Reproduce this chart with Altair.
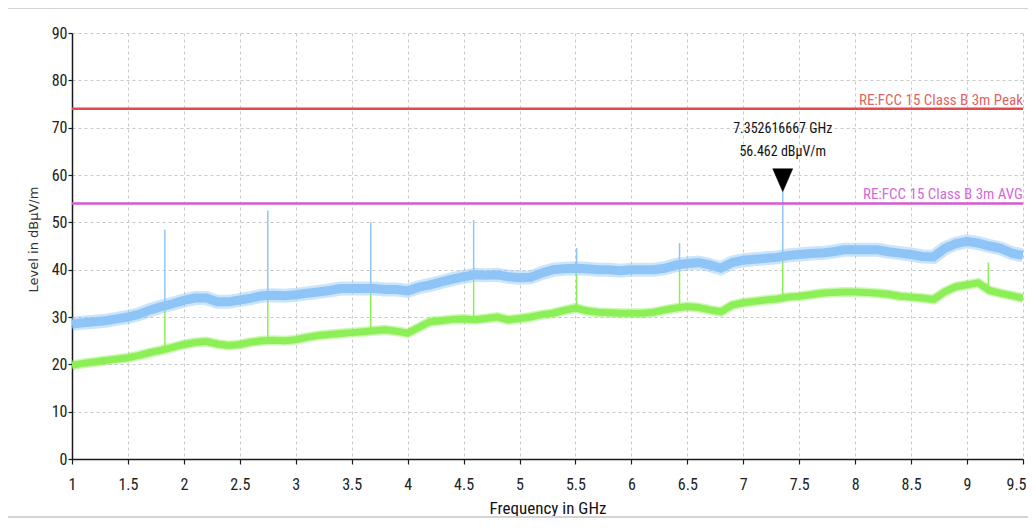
import altair as alt
import pandas as pd

# ---------------- data ----------------
FREQ = [1.0, 1.1, 1.2, 1.3, 1.4, 1.5, 1.6, 1.7, 1.8, 1.9,
        2.0, 2.1, 2.2, 2.3, 2.4, 2.5, 2.6, 2.7, 2.8, 2.9,
        3.0, 3.1, 3.2, 3.3, 3.4, 3.5, 3.6, 3.7, 3.8, 3.9,
        4.0, 4.1, 4.2, 4.3, 4.4, 4.5, 4.6, 4.7, 4.8, 4.9,
        5.0, 5.1, 5.2, 5.3, 5.4, 5.5, 5.6, 5.7, 5.8, 5.9,
        6.0, 6.1, 6.2, 6.3, 6.4, 6.5, 6.6, 6.7, 6.8, 6.9,
        7.0, 7.1, 7.2, 7.3, 7.4, 7.5, 7.6, 7.7, 7.8, 7.9,
        8.0, 8.1, 8.2, 8.3, 8.4, 8.5, 8.6, 8.7, 8.8, 8.9,
        9.0, 9.1, 9.2, 9.3, 9.4, 9.5]

PEAK_TRACE = [28.5, 28.8, 29.0, 29.2, 29.6, 30.0, 30.6, 31.5, 32.2, 32.8,
              33.5, 34.0, 34.0, 33.2, 33.2, 33.6, 34.0, 34.5, 34.6, 34.5,
              34.7, 35.0, 35.3, 35.6, 36.0, 36.0, 36.0, 36.0, 35.8, 35.8,
              35.5, 36.3, 36.8, 37.4, 38.0, 38.5, 38.9, 38.8, 38.9, 38.5,
              38.3, 38.4, 39.3, 40.0, 40.2, 40.3, 40.2, 40.0, 40.0, 39.8,
              40.0, 40.0, 40.0, 40.3, 41.0, 41.3, 41.5, 41.0, 40.3, 41.5,
              42.0, 42.2, 42.4, 42.6, 43.0, 43.2, 43.4, 43.5, 43.8, 44.2,
              44.2, 44.2, 44.2, 43.8, 43.5, 43.2, 42.8, 42.7, 44.5, 45.5,
              46.0, 45.6, 45.0, 44.5, 43.5, 43.0]

AVG_TRACE = [19.8, 20.2, 20.5, 20.8, 21.1, 21.4, 21.9, 22.5, 23.0, 23.6,
             24.2, 24.6, 24.8, 24.3, 24.0, 24.2, 24.7, 25.0, 25.1, 25.0,
             25.2, 25.7, 26.1, 26.3, 26.5, 26.7, 26.9, 27.1, 27.3, 27.0,
             26.6, 27.8, 29.0, 29.2, 29.5, 29.6, 29.4, 29.7, 30.0, 29.4,
             29.7, 30.0, 30.5, 30.8, 31.4, 31.9, 31.3, 31.0, 30.9, 30.8,
             30.8, 30.8, 31.0, 31.5, 31.9, 32.2, 32.0, 31.5, 31.1, 32.5,
             33.0, 33.3, 33.6, 33.8, 34.2, 34.4, 34.7, 35.0, 35.2, 35.3,
             35.3, 35.2, 35.0, 34.8, 34.4, 34.2, 34.0, 33.7, 35.3, 36.4,
             36.8, 37.2, 35.6, 35.0, 34.5, 34.0]

# narrow spikes (frequency, base level, top level)
PEAK_SPIKE_F = [1.83, 2.75, 3.67, 4.59, 5.51, 6.43, 7.352616667]
PEAK_SPIKE_BASE = [32.4, 34.5, 36.0, 38.9, 40.3, 41.1, 42.7]
PEAK_SPIKE_TOP = [48.5, 52.5, 50.0, 50.5, 44.6, 45.6, 56.462]

AVG_SPIKE_F = [1.83, 2.75, 3.67, 4.59, 5.51, 6.43, 7.352616667, 9.19]
AVG_SPIKE_BASE = [23.0, 25.0, 27.0, 29.4, 31.9, 32.0, 33.8, 35.8]
AVG_SPIKE_TOP = [32.0, 34.2, 35.8, 38.5, 40.0, 41.0, 42.5, 41.5]

LIMIT_NAMES = ["RE:FCC 15 Class B 3m Peak", "RE:FCC 15 Class B 3m AVG"]
LIMIT_VALUES = [74, 54]
LIMIT_START = [1.0, 1.0]
LIMIT_END = [9.5, 9.5]

MARKER_F = [7.352616667]
MARKER_LEVEL = [56.462]
MARKER_TEXT1 = ["7.352616667 GHz"]
MARKER_TEXT2 = ["56.462 dBµV/m"]

X_TICKS = [1.0, 1.25, 1.5, 1.75, 2.0, 2.25, 2.5, 2.75, 3.0, 3.25, 3.5, 3.75,
           4.0, 4.25, 4.5, 4.75, 5.0, 5.25, 5.5, 5.75, 6.0, 6.25, 6.5, 6.75,
           7.0, 7.25, 7.5, 7.75, 8.0, 8.25, 8.5, 8.75, 9.0, 9.25, 9.5]
Y_TICKS = [0, 5, 10, 15, 20, 25, 30, 35, 40, 45, 50, 55, 60, 65, 70, 75, 80, 85, 90]

# ---------------- styles ----------------
NARROW = "Roboto Condensed, Liberation Sans Narrow, Arial Narrow, Liberation Sans, sans-serif"
BLUE = "#8fc5f6"
GREEN = "#8def58"
RED = "#e2484c"
PINK = "#d35ad6"
RED_TXT = "#e06464"
PINK_TXT = "#d46ad6"

traces = pd.DataFrame({"f": FREQ, "peak": PEAK_TRACE, "avg": AVG_TRACE})
pk_sp = pd.DataFrame({"f": PEAK_SPIKE_F, "b": PEAK_SPIKE_BASE, "t": PEAK_SPIKE_TOP})
av_sp = pd.DataFrame({"f": AVG_SPIKE_F, "b": AVG_SPIKE_BASE, "t": AVG_SPIKE_TOP})
limits = pd.DataFrame({"name": LIMIT_NAMES, "v": LIMIT_VALUES,
                       "f0": LIMIT_START, "f1": LIMIT_END,
                       "c": [RED, PINK], "tc": [RED_TXT, PINK_TXT]})
marker = pd.DataFrame({"f": MARKER_F, "v": MARKER_LEVEL,
                       "t1": MARKER_TEXT1, "t2": MARKER_TEXT2})
frame_df = pd.DataFrame({"k": [0]})

xscale = alt.Scale(domain=[1, 9.5], nice=False, zero=False)
yscale = alt.Scale(domain=[0, 90], nice=False)

x_axis = alt.Axis(
    values=X_TICKS, format="~r",
    labelExpr="(datum.value * 2) % 1 == 0 ? datum.label : ''",
    labelAlign={"condition": {"test": "datum.value >= 9.4", "value": "right"}, "value": "center"},
    labelOffset={"condition": {"test": "datum.value >= 9.4", "value": 3}, "value": 0},
    title="Frequency in GHz",
    grid=True, gridColor="#c9c9c9", gridDash=[3, 3], gridWidth=1,
    domainColor="#1a1a1a", domainWidth=1.5,
    tickColor="#1a1a1a", tickSize=5, tickWidth=1.2,
    labelFont=NARROW, labelFontSize=16, labelColor="#222222", labelPadding=12,
    labelFlush=False, labelOverlap=False,
    titleFont=NARROW, titleFontSize=17, titleFontWeight="normal", titleColor="#111111",
    titleY=54, titleBaseline="alphabetic",
)
y_axis = alt.Axis(
    values=Y_TICKS, format="d",
    labelExpr="datum.value % 10 == 0 ? datum.label : ''",
    title="Level in dBµV/m",
    grid=True, gridColor="#c9c9c9", gridDash=[3, 3], gridWidth=1,
    domainColor="#1a1a1a", domainWidth=1.5,
    tickColor="#1a1a1a", tickSize=4, tickWidth=1.2,
    labelFont=NARROW, labelFontSize=16, labelColor="#222222", labelPadding=1,
    labelFlush=False, labelOverlap=False,
    titleFont="DejaVu Sans", titleFontSize=13, titleFontWeight="normal", titleColor="#333333",
    titleX=-39, titleY=206, titleAngle=-90, titleBaseline="middle", titleAlign="center",
)

base = alt.Chart(traces)

# frame around the whole chart (decoration)
frame = alt.Chart(frame_df).mark_rect(fill=None, stroke="#d4d4d4", strokeWidth=2).encode(
    x=alt.value(-65), x2=alt.value(990), y=alt.value(-25), y2=alt.value(484)
)

grid_holder = base.mark_line(opacity=0).encode(
    x=alt.X("f:Q", scale=xscale, axis=x_axis),
    y=alt.Y("avg:Q", scale=yscale, axis=y_axis),
)

avg_halo = base.mark_line(color=GREEN, strokeWidth=10, opacity=0.45, clip=True).encode(
    x=alt.X("f:Q", scale=xscale), y=alt.Y("avg:Q", scale=yscale))
avg_line = base.mark_line(color=GREEN, strokeWidth=7, clip=True).encode(
    x=alt.X("f:Q", scale=xscale), y=alt.Y("avg:Q", scale=yscale))
avg_spikes = alt.Chart(av_sp).mark_rule(color=GREEN, strokeWidth=1.5).encode(
    x=alt.X("f:Q", scale=xscale), y=alt.Y("b:Q", scale=yscale), y2="t:Q")

pk_halo = base.mark_line(color=BLUE, strokeWidth=14, opacity=0.45, clip=True).encode(
    x=alt.X("f:Q", scale=xscale), y=alt.Y("peak:Q", scale=yscale))
pk_line = base.mark_line(color=BLUE, strokeWidth=9, clip=True).encode(
    x=alt.X("f:Q", scale=xscale), y=alt.Y("peak:Q", scale=yscale))
pk_spikes = alt.Chart(pk_sp).mark_rule(color=BLUE, strokeWidth=1.5).encode(
    x=alt.X("f:Q", scale=xscale), y=alt.Y("b:Q", scale=yscale), y2="t:Q")

lim_lines = alt.Chart(limits).mark_rule(strokeWidth=2.5).encode(
    x=alt.X("f0:Q", scale=xscale), x2="f1:Q",
    y=alt.Y("v:Q", scale=yscale),
    color=alt.Color("c:N", scale=None, legend=None))
lim_text = alt.Chart(limits).mark_text(
    align="right", baseline="alphabetic", dy=-4, font=NARROW, fontSize=15).encode(
    x=alt.X("f1:Q", scale=xscale), y=alt.Y("v:Q", scale=yscale),
    text="name:N", color=alt.Color("tc:N", scale=None, legend=None))

mk_tri = alt.Chart(marker).mark_point(
    shape="M-0.87,-2L0.87,-2L0,0Z", size=529, filled=True, fill="#000000",
    stroke="#000000", strokeWidth=0.5, opacity=1).encode(
    x=alt.X("f:Q", scale=xscale), y=alt.Y("v:Q", scale=yscale))
mk_t1 = alt.Chart(marker).mark_text(
    align="center", baseline="alphabetic", dy=-59, font=NARROW, fontSize=14, color="#111111").encode(
    x=alt.X("f:Q", scale=xscale), y=alt.Y("v:Q", scale=yscale), text="t1:N")
mk_t2 = alt.Chart(marker).mark_text(
    align="center", baseline="alphabetic", dy=-36, font=NARROW, fontSize=14, color="#111111").encode(
    x=alt.X("f:Q", scale=xscale), y=alt.Y("v:Q", scale=yscale), text="t2:N")

chart = alt.layer(
    frame, grid_holder, avg_halo, avg_line, avg_spikes,
    pk_halo, pk_line, pk_spikes, lim_lines, lim_text, mk_tri, mk_t1, mk_t2
).properties(
    width=951, height=426,
    autosize=alt.AutoSizeParams(type="none"),
    padding={"left": 64, "top": 25, "right": 5, "bottom": 60},
    background="white",
).configure_view(stroke=None)

chart.save("out.html", embed_options={"renderer": "svg", "actions": False})
